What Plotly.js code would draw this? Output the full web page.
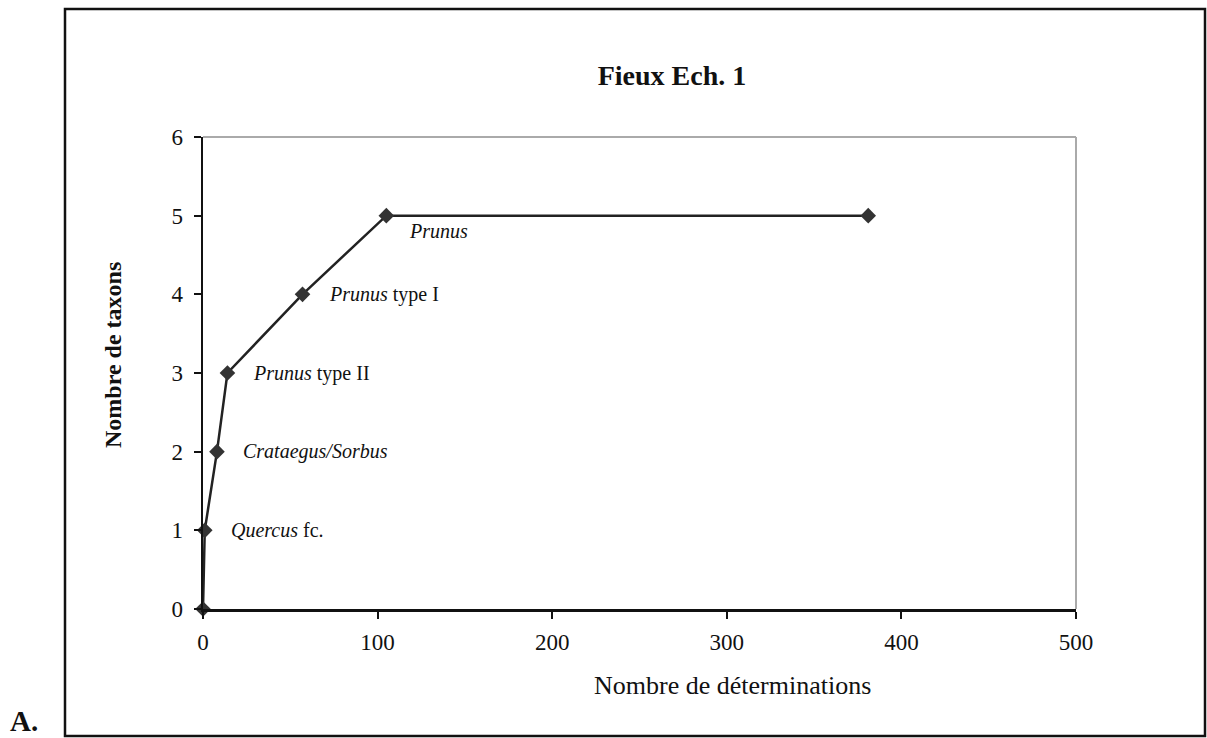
<!DOCTYPE html>
<html>
<head>
<meta charset="utf-8">
<script src="https://cdn.plot.ly/plotly-3.0.1.min.js"></script>
<style>html,body{margin:0;padding:0;background:#fff;}#chart{width:1207px;height:738px;}</style>
</head>
<body>
<div id="chart"></div>
<script>
var determinations = [0, 1, 8, 14, 57, 105, 381];
var taxons = [0, 1, 2, 3, 4, 5, 5];
var pointLabels = ["", "<i>Quercus</i> fc.", "<i>Crataegus/Sorbus</i>", "<i>Prunus</i> type II", "<i>Prunus</i> type I", "<i>Prunus</i>", ""];
var xTicks = [0, 100, 200, 300, 400, 500];
var yTicks = [0, 1, 2, 3, 4, 5, 6];
var chartTitle = "Fieux Ech. 1";
var xTitle = "Nombre de déterminations";
var yTitle = "Nombre de taxons";

var serif = "Liberation Serif, DejaVu Serif, serif";
var L = 203, R = 131, T = 137, B = 129, W = 1207, H = 738;
var pw = W - L - R, ph = H - T - B;
function px(x){ return (x - L) / pw; }
function py(y){ return (H - B - y) / ph; }

var annotations = [];
for (var i = 0; i < determinations.length; i++) {
  if (!pointLabels[i]) continue;
  var isTop = (i === 5);
  annotations.push({
    x: determinations[i], y: taxons[i], xref: 'x', yref: 'y',
    text: pointLabels[i], showarrow: false, xanchor: 'left', yanchor: 'middle',
    xshift: isTop ? 21 : 24, yshift: isTop ? -15 : 0,
    font: {family: serif, size: 20, color: '#111'}
  });
}
annotations.push({
  x: px(732), y: py(685), xref: 'paper', yref: 'paper', text: xTitle,
  showarrow: false, xanchor: 'center', yanchor: 'middle',
  font: {family: serif, size: 26, color: '#111'}
});
annotations.push({
  x: px(113), y: py(355), xref: 'paper', yref: 'paper', text: '<b>' + yTitle + '</b>',
  showarrow: false, xanchor: 'center', yanchor: 'middle', textangle: -90,
  font: {family: serif, size: 24, color: '#111'}
});
annotations.push({
  x: px(24), y: py(721), xref: 'paper', yref: 'paper', text: '<b>A.</b>',
  showarrow: false, xanchor: 'center', yanchor: 'middle',
  font: {family: serif, size: 29, color: '#111'}
});

var trace = {
  x: determinations, y: taxons, type: 'scatter', mode: 'lines+markers',
  line: {color: '#222', width: 2.5},
  marker: {symbol: 'diamond', size: 12, color: '#333'},
  cliponaxis: false, hoverinfo: 'x+y'
};

var layout = {
  width: W, height: H,
  margin: {l: L, r: R, t: T, b: B, pad: 0},
  paper_bgcolor: '#fff', plot_bgcolor: '#fff',
  showlegend: false,
  title: {text: '<b>' + chartTitle + '</b>', xref: 'container', x: 672 / W, xanchor: 'center',
          yref: 'container', y: 1 - 75 / H, yanchor: 'middle',
          font: {family: serif, size: 28, color: '#111'}},
  xaxis: {
    range: [0, 500], tickvals: xTicks, ticktext: xTicks.map(String),
    showgrid: false, zeroline: false, showline: true, linecolor: '#111', linewidth: 2.5,
    ticks: 'outside', ticklen: 7, tickwidth: 2, tickcolor: '#111', ticklabelstandoff: 4,
    tickfont: {family: serif, size: 23, color: '#111'}
  },
  yaxis: {
    range: [0, 6], tickvals: yTicks, ticktext: yTicks.map(String),
    showgrid: false, zeroline: false, showline: true, linecolor: '#111', linewidth: 2.5,
    ticks: 'outside', ticklen: 7, tickwidth: 2, tickcolor: '#111', ticklabelstandoff: 6,
    tickfont: {family: serif, size: 23, color: '#111'}
  },
  annotations: annotations,
  shapes: [
    {type: 'line', xref: 'paper', yref: 'paper', x0: 0, y0: 1, x1: 1, y1: 1, line: {color: '#aaa', width: 2}},
    {type: 'line', xref: 'paper', yref: 'paper', x0: 1, y0: 0, x1: 1, y1: 1, line: {color: '#aaa', width: 2}},
    {type: 'rect', xref: 'paper', yref: 'paper', x0: px(65), x1: px(1205), y0: py(736), y1: py(9),
     line: {color: '#111', width: 2.5}, fillcolor: 'rgba(0,0,0,0)'}
  ]
};

Plotly.newPlot('chart', [trace], layout, {displayModeBar: false, staticPlot: true});
</script>
</body>
</html>
